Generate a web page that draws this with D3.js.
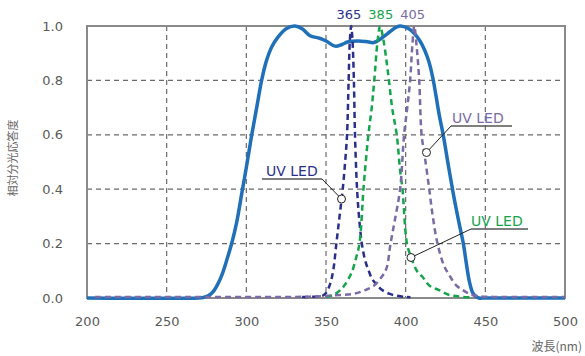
<!DOCTYPE html>
<html>
<head>
<meta charset="utf-8">
<script src="https://cdn.jsdelivr.net/npm/d3@7"></script>
<style>
  body { margin: 0; background: #fff; }
  svg text { font-family: "DejaVu Sans", sans-serif; }
</style>
</head>
<body>
<script>
// wavelength ticks / response ticks
const xTicks = [200, 250, 300, 350, 400, 450, 500];
const yTicks = [0, 0.2, 0.4, 0.6, 0.8, 1.0];

// sensor spectral response (solid blue)
const sensorNm  = [200, 270, 273, 276, 279, 282, 285, 288, 291, 294, 297, 300, 303.4, 306.5, 309.6, 312.5, 316, 320, 325, 330.5, 335, 340, 346, 350, 355.7, 360, 364, 370, 375, 380, 383.9, 387, 390.2, 393, 396.5, 401.7, 405, 409, 412, 414.5, 417, 419, 421, 423.7, 427, 430, 433, 436.2, 438, 440, 442, 444, 446, 450, 500];
const sensorVal = [0, 0, 0.002, 0.008, 0.022, 0.05, 0.09, 0.145, 0.205, 0.28, 0.38, 0.48, 0.6, 0.7, 0.8, 0.87, 0.924, 0.96, 0.99, 1.0, 0.99, 0.964, 0.955, 0.945, 0.926, 0.932, 0.942, 0.945, 0.943, 0.939, 0.951, 0.965, 0.979, 0.992, 1.0, 0.991, 0.975, 0.945, 0.91, 0.87, 0.81, 0.745, 0.675, 0.595, 0.48, 0.38, 0.29, 0.2, 0.13, 0.06, 0.02, 0.006, 0, 0, 0];

// UV LED 365
const led365Nm  = [335, 340, 345, 348.3, 350, 352.5, 354.5, 356.5, 358.5, 360.5, 362, 363.2, 364.2, 365, 365.8, 366.6, 367.5, 368.2, 369.5, 371, 372.5, 374.5, 376.6, 379, 382, 385, 390, 395, 400, 403];
const led365Val = [0.004, 0.004, 0.006, 0.01, 0.018, 0.05, 0.1, 0.2, 0.3, 0.4, 0.5, 0.6, 0.8, 0.95, 1.0, 0.95, 0.8, 0.6, 0.4, 0.28, 0.2, 0.14, 0.103, 0.07, 0.048, 0.03, 0.015, 0.008, 0.004, 0.003];

// UV LED 385
const led385Nm  = [350, 355, 359, 362, 366, 369, 371, 373.5, 374.5, 376.6, 378.7, 380.3, 382.3, 384, 386, 388, 389.5, 391.5, 394.4, 396.5, 398, 400.8, 403.3, 407, 410.5, 415, 421, 427, 434, 440];
const led385Val = [0.004, 0.012, 0.029, 0.05, 0.092, 0.15, 0.2, 0.4, 0.47, 0.6, 0.7, 0.8, 0.94, 1.0, 0.95, 0.87, 0.8, 0.7, 0.6, 0.47, 0.4, 0.2, 0.152, 0.1, 0.078, 0.045, 0.029, 0.012, 0.005, 0.003];

// UV LED 405
const led405Nm  = [205, 300, 340, 355, 367, 375, 380, 385, 388, 390.5, 393, 396.5, 399, 401, 402.8, 404.2, 405.4, 406.8, 408.5, 410, 412, 414.8, 417, 420, 424, 428, 432, 436, 440, 445, 455, 500];
const led405Val = [0.004, 0.004, 0.005, 0.01, 0.015, 0.03, 0.045, 0.078, 0.11, 0.2, 0.28, 0.4, 0.6, 0.7, 0.8, 0.93, 1.0, 0.93, 0.8, 0.6, 0.52, 0.4, 0.3, 0.2, 0.12, 0.078, 0.045, 0.029, 0.015, 0.007, 0.004, 0.004];

const peakLabels = ["365", "385", "405"];
const peakNm = [365, 385, 405];
const ledLabel = "UV LED";

const W = 585, H = 356;
const plotL = 87, plotR = 565, plotT = 26, plotB = 298;

const svg = d3.select("body").append("svg")
    .attr("width", W)
    .attr("height", H);

const x = d3.scaleLinear().domain([200, 500]).range([plotL, plotR]);
const y = d3.scaleLinear().domain([0, 1]).range([plotB, plotT]);

// grid
svg.append("g").selectAll("line")
    .data(xTicks.slice(1, -1))
    .enter().append("line")
    .attr("x1", d => x(d)).attr("x2", d => x(d))
    .attr("y1", plotT).attr("y2", plotB)
    .style("stroke", "#6a6a6a").style("stroke-width", 1.2)
    .style("stroke-dasharray", "5,4");

svg.append("g").selectAll("line")
    .data(yTicks.slice(1, -1))
    .enter().append("line")
    .attr("x1", plotL).attr("x2", plotR)
    .attr("y1", d => y(d)).attr("y2", d => y(d))
    .style("stroke", "#6a6a6a").style("stroke-width", 1.2)
    .style("stroke-dasharray", "5,4");

// frame
svg.append("rect")
    .attr("x", plotL).attr("y", plotT)
    .attr("width", plotR - plotL).attr("height", plotB - plotT)
    .style("fill", "none").style("stroke", "#8a8a8a").style("stroke-width", 2);

// axes (labels only)
const xAxis = svg.append("g")
    .attr("transform", "translate(0," + plotB + ")")
    .call(d3.axisBottom(x).tickValues(xTicks).tickSize(0).tickPadding(19).tickFormat(d3.format("d")));
const yAxis = svg.append("g")
    .attr("transform", "translate(" + plotL + ",0)")
    .call(d3.axisLeft(y).tickValues(yTicks).tickSize(0).tickPadding(24).tickFormat(d3.format(".1f")));
[xAxis, yAxis].forEach(a => {
    a.select(".domain").remove();
    a.selectAll("text")
        .style("font-family", "DejaVu Sans, sans-serif")
        .style("font-size", "13px")
        .style("fill", "#595959");
});

const line = d3.line()
    .x(d => x(d[0]))
    .y(d => y(d[1]))
    .curve(d3.curveCatmullRom.alpha(0.5));

const zip = (a, b) => a.map((v, i) => [v, b[i]]);

// sensor curve
svg.append("path")
    .attr("d", line(zip(sensorNm, sensorVal)))
    .style("fill", "none")
    .style("stroke", "#1f70b8")
    .style("stroke-width", 3.5)
    .style("stroke-linejoin", "round");

const ledColors = ["#2b2f8c", "#14a54b", "#7a6aa6"];
const ledSeries = [zip(led365Nm, led365Val), zip(led385Nm, led385Val), zip(led405Nm, led405Val)];

svg.append("g").selectAll("path")
    .data(ledSeries)
    .enter().append("path")
    .attr("d", d => line(d))
    .style("fill", "none")
    .style("stroke", (d, i) => ledColors[i])
    .style("stroke-width", 2.5)
    .style("stroke-dasharray", "6,4");

// peak labels above plot
svg.append("g").selectAll("text")
    .data(peakLabels)
    .enter().append("text")
    .attr("x", (d, i) => x(peakNm[i]) - 1)
    .attr("y", 19)
    .attr("text-anchor", "middle")
    .style("font-size", "13px")
    .style("fill", (d, i) => ledColors[i])
    .text(d => d);

// UV LED callouts: 365 (navy), 405 (purple), 385 (green)
const callouts = [
    { led: 0, tx: 266, ty: 176, ux1: 262, ux2: 322, uy: 179, cx: 341.5, cy: 199 },
    { led: 2, tx: 452, ty: 123, ux1: 451, ux2: 512, uy: 126, cx: 426.5, cy: 152.5 },
    { led: 1, tx: 471, ty: 226, ux1: 471, ux2: 528, uy: 229, cx: 411, cy: 257.5 }
];
const cg = svg.append("g");
callouts.forEach((c, i) => {
    cg.append("line")
        .attr("x1", c.ux1).attr("x2", c.ux2).attr("y1", c.uy).attr("y2", c.uy)
        .style("stroke", "#555").style("stroke-width", 1.5);
    const sx = i === 0 ? c.ux2 : c.ux1;
    cg.append("line")
        .attr("x1", sx).attr("y1", c.uy).attr("x2", c.cx).attr("y2", c.cy)
        .style("stroke", "#222").style("stroke-width", 1);
    cg.append("circle")
        .attr("cx", c.cx).attr("cy", c.cy).attr("r", 4)
        .style("fill", "#fff").style("stroke", "#222").style("stroke-width", 1);
    cg.append("text")
        .attr("x", c.tx).attr("y", c.ty)
        .style("font-size", "14px")
        .style("fill", ledColors[c.led])
        .text(ledLabel);
});

// axis titles
svg.append("text")
    .attr("transform", "translate(17,158) rotate(-90)")
    .attr("text-anchor", "middle")
    .style("font-family", "Noto Sans CJK JP, sans-serif")
    .style("font-size", "11px")
    .style("fill", "#666")
    .text("相対分光応答度");

svg.append("text")
    .attr("x", 582).attr("y", 351)
    .attr("text-anchor", "end")
    .style("font-family", "Noto Sans CJK JP, sans-serif")
    .style("font-size", "12px")
    .style("fill", "#666")
    .text("波長(nm)");
</script>
</body>
</html>
